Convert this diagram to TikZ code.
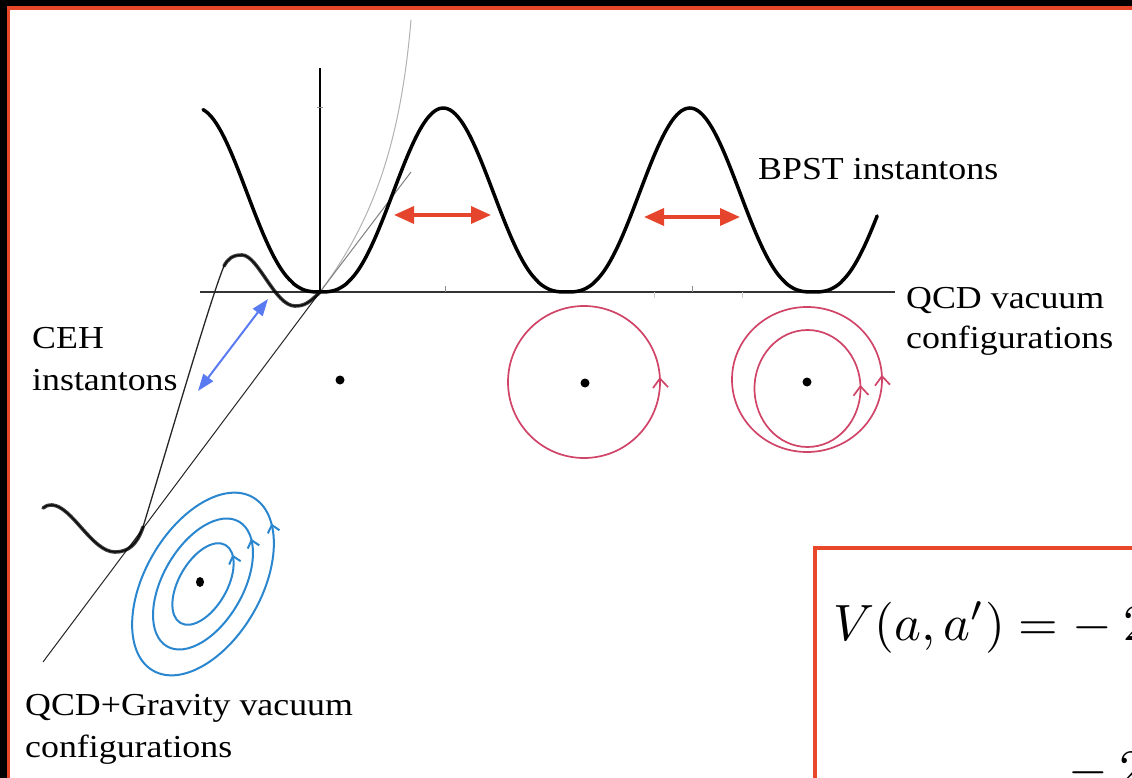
\documentclass[tikz,border=0pt]{standalone}
\usepackage[no-math]{fontspec}
\usepackage{graphicx}
\newfontfamily\lblfont[FakeStretch=1.12]{Liberation Serif}
\usetikzlibrary{arrows.meta,decorations.markings}
\definecolor{framered}{HTML}{E8472A}
\definecolor{arrred}{HTML}{E5452C}
\definecolor{loopred}{HTML}{D04468}
\definecolor{loopblue}{HTML}{2A87CF}
\definecolor{arrblue}{HTML}{5A7AF2}
\tikzset{
  lbl/.style={anchor=base west, inner sep=0pt, font=\lblfont\fontsize{32}{38}\selectfont},
  eqlbl/.style={anchor=base west, inner sep=0pt},
  potential/.style={line width=3.5pt, black, line cap=round},
  blurred/.style={line width=3.6pt, black, opacity=0.75, line cap=round},
  thincurve/.style={line width=1.3pt, black!85},
  axisline/.style={line width=2pt, black!80},
  tickmark/.style={line width=0.8pt, black!45},
  redloop/.style={loopred, line width=1.7pt},
  blueloop/.style={loopblue, line width=2pt},
  loopmark/.style={postaction={decorate}, decoration={markings,
      mark=at position #1 with {\arrowreversed{Straight Barb[length=9pt,width=15pt]}}}},
  smallmark/.style={postaction={decorate}, decoration={markings,
      mark=at position #1 with {\arrowreversed{Straight Barb[length=7pt,width=12pt]}}}},
  redarrow/.style={arrred, line width=3.5pt,
      {Triangle[length=20pt,width=17pt]}-{Triangle[length=20pt,width=17pt]}},
  bluearrow/.style={arrblue, line width=2pt,
      {Triangle[length=17pt,width=12pt]}-{Triangle[length=17pt,width=12pt]}},
  dot/.style={fill=black}
}
\begin{document}
\begin{tikzpicture}[x=1pt,y=-1pt]
\useasboundingbox (0,0) rectangle (1132,778);
\clip (0,0) rectangle (1132,778);
% frame
\fill[black] (0,0) rectangle (1132,778);
\fill[framered] (7,6) rectangle (1132,778);
\fill[white] (10,10) rectangle (1132,778);

% gray guide lines
\draw[black!30, line width=1pt] (320,292) .. controls (370,225) and (400,150) .. (411,20);
\draw[black!50, line width=1pt] (320,292) -- (411,172);

% axes
\draw[axisline] (200,292) -- (895,292);
\draw[black, line width=2.5pt] (320,68) -- (320,292);
\draw[tickmark] (445,292) -- (445,286);
\draw[tickmark] (692,292) -- (692,286);
\draw[black!20, line width=0.8pt] (654,292) -- (654,298);
\draw[black!20, line width=0.8pt] (742,292) -- (742,298);
\draw[tickmark] (317,107) -- (323,107);

% QCD potential (u = phase in periods)
\draw[potential] plot[domain=-0.4746:2.2637, samples=260, smooth, variable=\u]
   ({320+246.5*\u}, {292-184*pow(max(0.0001,(1-cos(360*\u))/2),1.4)});

% tilted (gravity) line and curve
\draw[black!85, line width=1pt] (320,292) -- (43,662);
\draw[thincurve] (320,292) .. controls (310,302) and (305,306) .. (295,306)
   .. controls (275,306) and (258,255) .. (242,255)
   .. controls (232,255) and (228,259) .. (224,266)
   .. controls (210,300) and (168,445) .. (143,527)
   .. controls (137,545) and (128,552) .. (115,552)
   .. controls (92,552) and (72,506) .. (52,505)
   .. controls (48,505) and (45,506) .. (43,508);
\draw[blurred] (320,292) .. controls (310,302) and (305,306) .. (295,306)
   .. controls (275,306) and (258,255) .. (242,255)
   .. controls (232,255) and (228,259) .. (224,266);
\draw[blurred] (143,527)
   .. controls (137,545) and (128,552) .. (115,552)
   .. controls (92,552) and (72,506) .. (52,505)
   .. controls (48,505) and (45,506) .. (43,508);

% red double arrows (BPST)
\coordinate (ra1) at (394,215); \coordinate (rb1) at (491,215);
\coordinate (ra2) at (644,217); \coordinate (rb2) at (740,217);
\draw[redarrow] (ra1) -- (rb1);
\draw[redarrow] (ra2) -- (rb2);

% blue double arrow (CEH)
\coordinate (ba) at (198,391); \coordinate (bb) at (268,299);
\draw[bluearrow] (ba) -- (bb);

% dots
\fill[dot] (340,380) circle[radius=4.5];
\fill[dot] (585,383) circle[radius=4.5];
\fill[dot] (807,382) circle[radius=4.5];
\fill[dot] (200,582) ellipse[x radius=4, y radius=5];

% red winding loops
\draw[redloop, loopmark=0.99] (584,382) circle[radius=76];
\draw[redloop, loopmark=0.99] (807,379.5) ellipse[x radius=75, y radius=72.5];
\draw[redloop, loopmark=0.99] (807.5,388.5) ellipse[x radius=53, y radius=58.5];

% blue winding loops
\draw[blueloop, smallmark=0.055, rotate around={60:(203,584)}] (203,584) ellipse[x radius=45, y radius=24];
\draw[blueloop, smallmark=0.06, rotate around={60:(203,584)}] (203,584) ellipse[x radius=72, y radius=40];
\draw[blueloop, smallmark=0.065, rotate around={60:(203,584)}] (203,584) ellipse[x radius=100, y radius=58];

% labels
\node[lbl] (bpst) at (758,180) {BPST instantons};
\node[lbl] (qcd1) at (906,308) {QCD vacuum};
\node[lbl] (qcd2) at (906,348) {configurations};
\node[lbl] (ceh1) at (32,348) {CEH};
\node[lbl] (ceh2) at (32,390) {instantons};
\node[lbl] (grav1) at (25,715) {QCD+Gravity vacuum};
\node[lbl] (grav2) at (25,757) {configurations};

% equation box
\draw[framered, line width=3.5pt] (815,548) rectangle (1145,800);
\node[eqlbl] (eq1) at (833,640) {\scalebox{5.1}{$V(a,a')=-\mskip\medmuskip2$}};
\node[eqlbl] (eq2) at (1068,785) {\scalebox{5.1}{$-\mskip\medmuskip2$}};
\end{tikzpicture}
\end{document}
